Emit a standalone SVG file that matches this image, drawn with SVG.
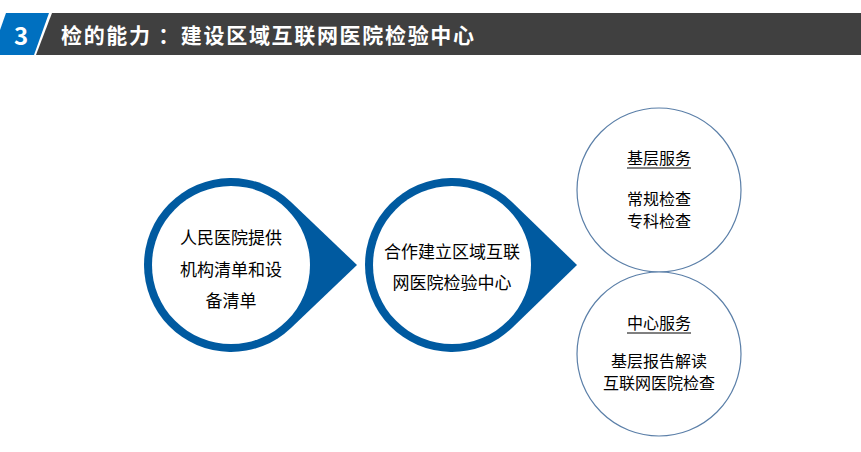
<svg xmlns="http://www.w3.org/2000/svg" width="861" height="452" viewBox="0 0 861 452">
<style>
text{font-family:"Microsoft YaHei","Noto Sans CJK SC",sans-serif;fill:#000;text-anchor:middle}
.t{font-size:17px}
.s{font-size:16px}
.drop{fill:#005aa0}
.in{fill:#fff}
.rc{fill:#fff;stroke:#5b7fa8;stroke-width:1.2}
</style>
<rect width="861" height="452" fill="#fff"/>
<g id="header">
<polygon points="52,13 861,13 861,55 36,55" fill="#404040"/>
<polygon points="6,13 49,13 34,55 0,55 0,30" fill="#0070c0"/>
<text x="21" y="45" style="font-size:24px;font-weight:bold;fill:#fff">3</text>
<text x="61" y="43" textLength="413" lengthAdjust="spacing" style="font-size:21px;font-weight:bold;fill:#fff;text-anchor:start">检的能力 ：建设区域互联网医院检验中心</text>
</g>
<g id="node1">
<path class="drop" d="M357 265 L291 202 A87 87 0 1 0 291 328 Z"/>
<circle class="in" cx="231" cy="265" r="79"/>
<text class="t" x="231" y="244">人民医院提供</text>
<text class="t" x="231" y="276">机构清单和设</text>
<text class="t" x="231" y="307">备清单</text>
</g>
<g id="node2">
<path class="drop" d="M577 265 L512 202 A87 87 0 1 0 512 328 Z"/>
<circle class="in" cx="452" cy="265" r="79"/>
<text class="t" x="452" y="258">合作建立区域互联</text>
<text class="t" x="452" y="289">网医院检验中心</text>
</g>
<g id="node3">
<circle class="rc" cx="659" cy="190" r="82"/>
<text class="s" x="659" y="164">基层服务</text>
<line x1="627" y1="168" x2="691" y2="168" stroke="#000" stroke-width="1"/>
<text class="s" x="659" y="205">常规检查</text>
<text class="s" x="659" y="227">专科检查</text>
</g>
<g id="node4">
<circle class="rc" cx="659" cy="354" r="82"/>
<text class="s" x="659" y="329">中心服务</text>
<line x1="627" y1="333" x2="691" y2="333" stroke="#000" stroke-width="1"/>
<text class="s" x="659" y="367">基层报告解读</text>
<text class="s" x="659" y="389">互联网医院检查</text>
</g>
<g id="connectors"></g>
</svg>
